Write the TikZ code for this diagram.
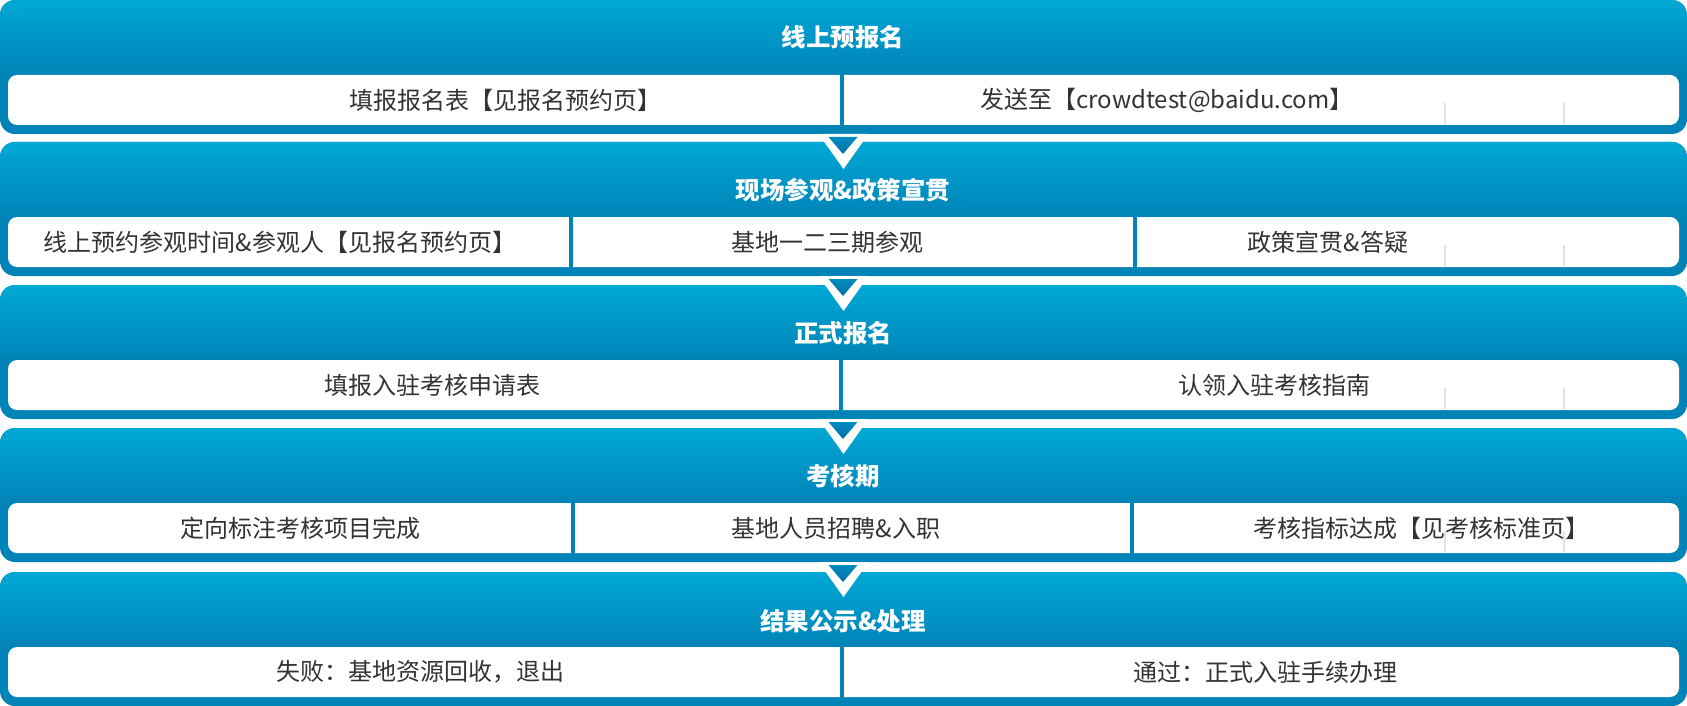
\documentclass[tikz,border=0pt]{standalone}
\usepackage{fontspec}
\setmainfont{Noto Sans CJK SC}
\definecolor{bluetop}{RGB}{0,168,213}
\definecolor{bluebot}{RGB}{0,131,183}
\definecolor{chevtop}{RGB}{0,140,192}
\definecolor{chevbot}{RGB}{0,112,166}
\definecolor{txt}{RGB}{51,51,51}
\definecolor{faint}{RGB}{226,226,226}
\tikzset{
  celltext/.style={text=txt, font=\fontsize{24}{24}\selectfont, inner sep=0pt, anchor=center},
  titletext/.style={text=white, font=\bfseries\fontsize{24.5}{24.5}\selectfont, inner sep=0pt, anchor=center},
  panelbg/.style={fill=bluebot, rounded corners=15pt},
  whitebar/.style={fill=white, rounded corners=9pt},
  divider/.style={fill=bluebot},
  faintline/.style={draw=faint, line width=2pt},
  chevwhite/.style={fill=white},
  chevinner/.style={top color=chevtop, bottom color=chevbot},
}
\newcommand\mypanel[2]{% #1 top, #2 name
  \fill[panelbg] (0,#1) rectangle (1687,#1+134);
  \begin{scope}
    \clip[rounded corners=15pt] (0,#1) rectangle (1687,#1+134);
    \shade[top color=bluetop,bottom color=bluebot] (0,#1) rectangle (1687,#1+76);
  \end{scope}
  \fill[whitebar] (8,#1+75) rectangle (1679,#1+125);
  \coordinate (#2top) at (843.5,#1);
  \coordinate (#2bot) at (843.5,#1+134);
}
\newcommand\mydiv[2]{% #1 x, #2 top
  \fill[divider] (#1,#2+74) rectangle (#1+4,#2+126);
}
\newcommand\myfaint[1]{%
  \draw[faintline] (1445,#1+103) -- (1445,#1+124);
  \draw[faintline] (1564,#1+103) -- (1564,#1+124);
}
\newcommand\mychev[1]{% #1 = coordinate name of bottom of upper panel
  \fill[chevwhite] ([xshift=-25pt]#1) -- ([xshift=25pt]#1) -- ([yshift=-35pt]#1) -- cycle;
  \shade[chevinner] ([xshift=-15pt,yshift=-3pt]#1) -- ([xshift=14pt,yshift=-3pt]#1) -- ([xshift=-0.5pt,yshift=-20pt]#1) -- cycle;
}
\begin{document}
\begin{tikzpicture}[x=1pt,y=-1pt]
\useasboundingbox (0,0) rectangle (1687,706);

% panels
\mypanel{0}{p1}
\mypanel{142}{p2}
\mypanel{285}{p3}
\mypanel{428}{p4}
\mypanel{572}{p5}

% dividers
\mydiv{840}{0}
\mydiv{569}{142}
\mydiv{1133}{142}
\mydiv{839}{285}
\mydiv{571}{428}
\mydiv{1130}{428}
\mydiv{840}{572}

% faint marks
\myfaint{0}
\myfaint{142}
\myfaint{285}
\myfaint{428}

% chevrons
\mychev{p1bot}
\mychev{p2bot}
\mychev{p3bot}
\mychev{p4bot}

% titles
\node[titletext] (t1) at (843,37) {线上预报名};
\node[titletext] (t2) at (843,190) {现场参观\&政策宣贯};
\node[titletext] (t3) at (843,333) {正式报名};
\node[titletext] (t4) at (843,476) {考核期};
\node[titletext] (t5) at (843,621) {结果公示\&处理};

% cells
\node[celltext] (c11) at (505,100) {填报报名表【见报名预约页】};
\node[celltext] (c12) at (1167,100) {发送至【crowdtest@baidu.com】};

\node[celltext] (c21) at (280,242) {线上预约参观时间\&参观人【见报名预约页】};
\node[celltext] (c22) at (827,242) {基地一二三期参观};
\node[celltext] (c23) at (1328,242) {政策宣贯\&答疑};

\node[celltext] (c31) at (432,385) {填报入驻考核申请表};
\node[celltext] (c32) at (1274,385) {认领入驻考核指南};

\node[celltext] (c41) at (300,528) {定向标注考核项目完成};
\node[celltext] (c42) at (836,528) {基地人员招聘\&入职};
\node[celltext] (c43) at (1421,528) {考核指标达成【见考核标准页】};

\node[celltext] (c51) at (420,672) {失败：基地资源回收，退出};
\node[celltext] (c52) at (1265,672) {通过：正式入驻手续办理};
\end{tikzpicture}
\end{document}
